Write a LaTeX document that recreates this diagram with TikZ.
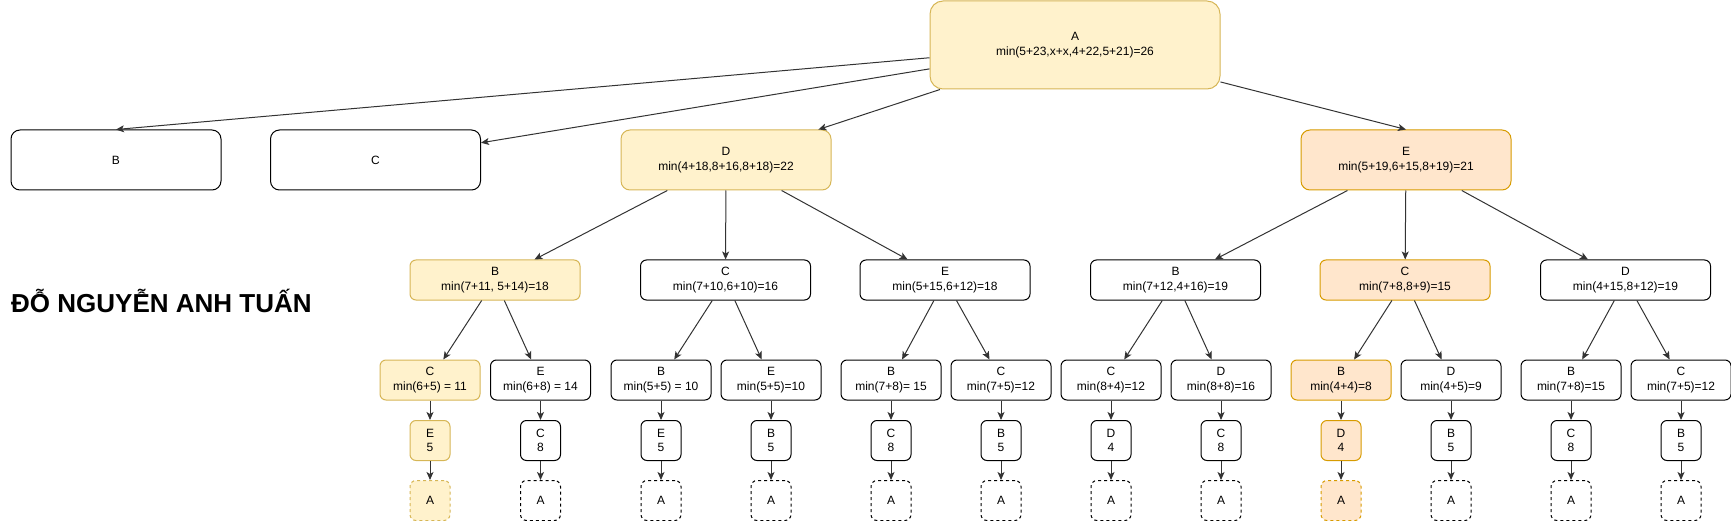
\documentclass[tikz,border=0pt]{standalone}
\usepackage{fontspec}
\setmainfont{Liberation Sans}
\usepackage{xcolor}
\usetikzlibrary{arrows.meta}
\definecolor{ylwfill}{HTML}{FFF2CC}
\definecolor{ylwline}{HTML}{D6B656}
\definecolor{orgfill}{HTML}{FFE6CC}
\definecolor{orgline}{HTML}{D79B00}
\colorlet{edgecolor}{black!80}
\tikzstyle{box}=[draw,line width=1pt,align=center,inner sep=0pt,font=\fontsize{12}{14.4}\selectfont]
\tikzstyle{top}=[box,minimum width=290pt,minimum height=88pt,rounded corners=13pt]
\tikzstyle{lvone}=[box,minimum width=210pt,minimum height=60pt,rounded corners=9pt]
\tikzstyle{lvtwo}=[box,minimum width=170pt,minimum height=40pt,rounded corners=6pt]
\tikzstyle{lvthree}=[box,minimum width=100pt,minimum height=40pt,rounded corners=6pt]
\tikzstyle{leaf}=[box,minimum width=40pt,minimum height=40pt,rounded corners=6pt]
\tikzstyle{back}=[leaf,dash pattern=on 3pt off 3pt]
\tikzstyle{ylw}=[fill=ylwfill,draw=ylwline]
\tikzstyle{org}=[fill=orgfill,draw=orgline]
\tikzstyle{nx}=[line width=1pt,draw=edgecolor,-{Stealth[length=8pt,width=7pt,inset=2pt]}]

\begin{document}
\begin{tikzpicture}[x=1pt,y=-1pt]
	\useasboundingbox (0,0) rectangle (1731,521);
	% root and first level
	\node[top,ylw] (a) at (1075,45) {A\\min(5+23,x+x,4+22,5+21)=26};
	\node[lvone] (b) at (116,160) {B};
	\node[lvone] (c) at (375.5,160) {C};
	\node[lvone,ylw] (d) at (726,160) {D\\min(4+18,8+16,8+18)=22};
	\node[lvone,org] (e) at (1406,160) {E\\min(5+19,6+15,8+19)=21};
	\node[font=\bfseries\fontsize{26}{30}\selectfont,anchor=base west,inner sep=0pt] (name) at (11,312.7) {ĐỖ NGUYỄN ANH TUẤN};
	% second level
	\node[lvtwo,ylw] (db) at (495,280) {B\\min(7+11, 5+14)=18};
	\node[lvtwo] (dc) at (725.5,280) {C\\min(7+10,6+10)=16};
	\node[lvtwo] (de) at (945,280) {E\\min(5+15,6+12)=18};
	\node[lvtwo] (eb) at (1175.5,280) {B\\min(7+12,4+16)=19};
	\node[lvtwo,org] (ec) at (1405,280) {C\\min(7+8,8+9)=15};
	\node[lvtwo] (ed) at (1625.5,280) {D\\min(4+15,8+12)=19};
	% third level
	\node[lvthree,ylw] (dbc) at (430,380) {C\\min(6+5) = 11};
	\node[lvthree] (dbe) at (540.5,380) {E\\min(6+8) = 14};
	\node[lvthree] (dcb) at (661,380) {B\\min(5+5) = 10};
	\node[lvthree] (dce) at (771,380) {E\\min(5+5)=10};
	\node[lvthree] (deb) at (891,380) {B\\min(7+8)= 15};
	\node[lvthree] (dec) at (1001,380) {C\\min(7+5)=12};
	\node[lvthree] (ebc) at (1111,380) {C\\min(8+4)=12};
	\node[lvthree] (ebd) at (1221,380) {D\\min(8+8)=16};
	\node[lvthree,org] (ecb) at (1341,380) {B\\min(4+4)=8};
	\node[lvthree] (ecd) at (1451,380) {D\\min(4+5)=9};
	\node[lvthree] (edb) at (1571,380) {B\\min(7+8)=15};
	\node[lvthree] (edc) at (1681,380) {C\\min(7+5)=12};
	% last step and way back
	\node[leaf,ylw] (dbc-n) at (430,440.5) {E\\5};
	\node[leaf] (dbe-n) at (540.5,440.5) {C\\8};
	\node[leaf] (dcb-n) at (661,440.5) {E\\5};
	\node[leaf] (dce-n) at (771,440.5) {B\\5};
	\node[leaf] (deb-n) at (891,440.5) {C\\8};
	\node[leaf] (dec-n) at (1001,440.5) {B\\5};
	\node[leaf] (ebc-n) at (1111,440.5) {D\\4};
	\node[leaf] (ebd-n) at (1221,440.5) {C\\8};
	\node[leaf,org] (ecb-n) at (1341,440.5) {D\\4};
	\node[leaf] (ecd-n) at (1451,440.5) {B\\5};
	\node[leaf] (edb-n) at (1571,440.5) {C\\8};
	\node[leaf] (edc-n) at (1681,440.5) {B\\5};
	\node[back,ylw] (dbc-a) at (430,500.5) {A};
	\node[back] (dbe-a) at (540.5,500.5) {A};
	\node[back] (dcb-a) at (661,500.5) {A};
	\node[back] (dce-a) at (771,500.5) {A};
	\node[back] (deb-a) at (891,500.5) {A};
	\node[back] (dec-a) at (1001,500.5) {A};
	\node[back] (ebc-a) at (1111,500.5) {A};
	\node[back] (ebd-a) at (1221,500.5) {A};
	\node[back,org] (ecb-a) at (1341,500.5) {A};
	\node[back] (ecd-a) at (1451,500.5) {A};
	\node[back] (edb-a) at (1571,500.5) {A};
	\node[back] (edc-a) at (1681,500.5) {A};
	% edges
	\draw[nx] (a) -- (b.north);
	\draw[nx] (a) -- (c);
	\draw[nx] (a) -- (d);
	\draw[nx] (a) -- (e.north);
	\draw[nx] (d) -- (db);
	\draw[nx] (d) -- (dc);
	\draw[nx] (d) -- (de);
	\draw[nx] (e) -- (eb);
	\draw[nx] (e) -- (ec);
	\draw[nx] (e) -- (ed);
	\draw[nx] (db) -- (dbc);
	\draw[nx] (db) -- (dbe);
	\draw[nx] (dc) -- (dcb);
	\draw[nx] (dc) -- (dce);
	\draw[nx] (de) -- (deb);
	\draw[nx] (de) -- (dec);
	\draw[nx] (eb) -- (ebc);
	\draw[nx] (eb) -- (ebd);
	\draw[nx] (ec) -- (ecb);
	\draw[nx] (ec) -- (ecd);
	\draw[nx] (ed) -- (edb);
	\draw[nx] (ed) -- (edc);
	\draw[nx] (dbc) -- (dbc-n);  \draw[nx] (dbc-n) -- (dbc-a);
	\draw[nx] (dbe) -- (dbe-n);  \draw[nx] (dbe-n) -- (dbe-a);
	\draw[nx] (dcb) -- (dcb-n);  \draw[nx] (dcb-n) -- (dcb-a);
	\draw[nx] (dce) -- (dce-n);  \draw[nx] (dce-n) -- (dce-a);
	\draw[nx] (deb) -- (deb-n);  \draw[nx] (deb-n) -- (deb-a);
	\draw[nx] (dec) -- (dec-n);  \draw[nx] (dec-n) -- (dec-a);
	\draw[nx] (ebc) -- (ebc-n);  \draw[nx] (ebc-n) -- (ebc-a);
	\draw[nx] (ebd) -- (ebd-n);  \draw[nx] (ebd-n) -- (ebd-a);
	\draw[nx] (ecb) -- (ecb-n);  \draw[nx] (ecb-n) -- (ecb-a);
	\draw[nx] (ecd) -- (ecd-n);  \draw[nx] (ecd-n) -- (ecd-a);
	\draw[nx] (edb) -- (edb-n);  \draw[nx] (edb-n) -- (edb-a);
	\draw[nx] (edc) -- (edc-n);  \draw[nx] (edc-n) -- (edc-a);
\end{tikzpicture}
\end{document}
